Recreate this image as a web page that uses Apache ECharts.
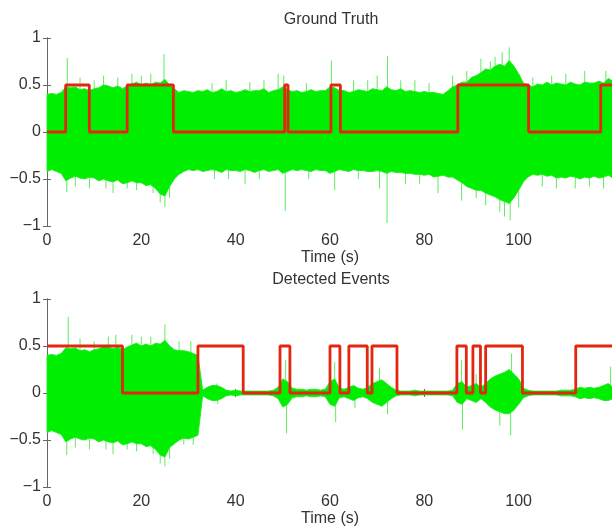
<!DOCTYPE html>
<html>
<head>
<meta charset="utf-8">
<script src="https://cdn.jsdelivr.net/npm/echarts@6/dist/echarts.min.js"></script>
<style>
html,body{margin:0;padding:0;background:#fff;}
#main{width:612px;height:526px;}
</style>
</head>
<body>
<div id="main"></div>
<script>
// envelope of the waveform, one sample per second (0 .. 120 s)
const sampleStep = 1;
const topHi = [0.40,0.41,0.40,0.42,0.48,0.47,0.48,0.45,0.46,0.44,
  0.46,0.47,0.50,0.49,0.47,0.49,0.46,0.49,0.51,0.53,
  0.50,0.52,0.50,0.53,0.52,0.56,0.50,0.46,0.42,0.44,
  0.43,0.42,0.44,0.43,0.45,0.42,0.43,0.46,0.43,0.44,
  0.42,0.43,0.45,0.43,0.44,0.44,0.46,0.42,0.44,0.45,
  0.48,0.45,0.43,0.44,0.42,0.43,0.45,0.43,0.44,0.44,
  0.48,0.47,0.44,0.44,0.42,0.43,0.45,0.44,0.43,0.46,
  0.45,0.44,0.48,0.45,0.44,0.46,0.43,0.44,0.43,0.42,
  0.43,0.42,0.42,0.41,0.40,0.44,0.48,0.50,0.53,0.53,
  0.58,0.60,0.63,0.67,0.66,0.70,0.72,0.70,0.76,0.70,
  0.62,0.52,0.50,0.48,0.51,0.50,0.53,0.50,0.52,0.51,
  0.50,0.53,0.51,0.50,0.53,0.52,0.52,0.54,0.52,0.57,0.54];
const topLo = [-0.42,-0.40,-0.42,-0.44,-0.52,-0.49,-0.47,-0.49,-0.50,-0.48,
  -0.49,-0.52,-0.50,-0.52,-0.53,-0.51,-0.55,-0.54,-0.52,-0.54,
  -0.54,-0.57,-0.56,-0.60,-0.66,-0.68,-0.58,-0.50,-0.45,-0.42,
  -0.40,-0.41,-0.40,-0.42,-0.41,-0.40,-0.41,-0.43,-0.40,-0.41,
  -0.41,-0.42,-0.40,-0.41,-0.43,-0.41,-0.40,-0.42,-0.41,-0.40,
  -0.44,-0.42,-0.40,-0.41,-0.40,-0.41,-0.42,-0.40,-0.41,-0.41,
  -0.44,-0.42,-0.40,-0.41,-0.42,-0.40,-0.41,-0.41,-0.42,-0.42,
  -0.41,-0.42,-0.44,-0.42,-0.43,-0.43,-0.44,-0.44,-0.45,-0.45,
  -0.46,-0.45,-0.48,-0.47,-0.46,-0.48,-0.48,-0.51,-0.54,-0.58,
  -0.60,-0.62,-0.62,-0.65,-0.67,-0.69,-0.72,-0.74,-0.76,-0.70,
  -0.62,-0.53,-0.48,-0.45,-0.46,-0.45,-0.47,-0.46,-0.49,-0.48,
  -0.49,-0.47,-0.48,-0.50,-0.48,-0.49,-0.47,-0.49,-0.48,-0.46,-0.49];
const botHi = [0.40,0.41,0.40,0.42,0.48,0.47,0.48,0.45,0.46,0.44,
  0.46,0.47,0.50,0.49,0.47,0.49,0.46,0.49,0.51,0.53,
  0.50,0.52,0.50,0.53,0.52,0.56,0.50,0.46,0.45,0.45,
  0.44,0.42,0.40,0.03,0.06,0.08,0.08,0.06,0.03,0.02,
  0.03,0.02,0.02,0.02,0.02,0.02,0.02,0.02,0.03,0.06,
  0.15,0.12,0.05,0.04,0.04,0.03,0.04,0.04,0.03,0.04,
  0.12,0.15,0.05,0.04,0.06,0.08,0.05,0.04,0.06,0.10,
  0.12,0.14,0.10,0.06,0.03,0.02,0.02,0.02,0.03,0.02,
  0.02,0.02,0.02,0.02,0.02,0.02,0.03,0.10,0.12,0.06,
  0.08,0.10,0.06,0.10,0.15,0.18,0.20,0.22,0.25,0.20,
  0.15,0.05,0.03,0.02,0.02,0.02,0.02,0.02,0.02,0.03,
  0.03,0.03,0.04,0.06,0.05,0.06,0.05,0.06,0.08,0.10,0.06];
const botLo = [-0.42,-0.40,-0.42,-0.44,-0.52,-0.49,-0.47,-0.49,-0.50,-0.48,
  -0.49,-0.52,-0.50,-0.52,-0.53,-0.51,-0.55,-0.54,-0.52,-0.54,
  -0.54,-0.57,-0.56,-0.60,-0.66,-0.68,-0.58,-0.54,-0.50,-0.48,
  -0.49,-0.47,-0.45,-0.03,-0.06,-0.08,-0.08,-0.06,-0.03,-0.02,
  -0.03,-0.02,-0.02,-0.02,-0.02,-0.02,-0.02,-0.02,-0.03,-0.06,
  -0.15,-0.12,-0.05,-0.04,-0.04,-0.03,-0.04,-0.04,-0.03,-0.04,
  -0.12,-0.14,-0.05,-0.04,-0.06,-0.08,-0.05,-0.04,-0.06,-0.10,
  -0.12,-0.14,-0.10,-0.06,-0.03,-0.02,-0.02,-0.02,-0.03,-0.02,
  -0.02,-0.02,-0.02,-0.02,-0.02,-0.02,-0.03,-0.10,-0.12,-0.06,
  -0.08,-0.10,-0.06,-0.10,-0.15,-0.18,-0.20,-0.22,-0.22,-0.18,
  -0.12,-0.05,-0.03,-0.02,-0.02,-0.02,-0.02,-0.02,-0.02,-0.03,
  -0.03,-0.03,-0.04,-0.06,-0.05,-0.06,-0.05,-0.06,-0.08,-0.08,-0.06];

// isolated peaks of the waveform (time in s, value)
const topSpikeT = [4.3, 7, 10, 12, 15, 18, 20, 22, 24.8, 35, 38, 43, 46, 49, 50.2, 55, 60.3, 65, 68, 70, 72.2, 75, 78, 81, 86, 89, 92, 94, 95, 96.5, 98, 103, 107, 110, 114, 118.5,
  4.2, 6, 9, 12.5, 14, 17, 19, 22.5, 24, 25, 26, 35.5, 38.5, 42, 45, 50.5, 55.5, 61, 66, 70.5, 72.1, 76, 79, 82.9, 87.9, 91, 93, 96, 97, 98.2, 100, 105, 108, 112, 115, 118];
const topSpikeV = [0.79, 0.58, 0.55, 0.6, 0.58, 0.62, 0.6, 0.62, 0.83, 0.52, 0.55, 0.53, 0.55, 0.62, 0.6, 0.52, 0.76, 0.55, 0.55, 0.6, 0.81, 0.55, 0.55, 0.52, 0.6, 0.65, 0.78, 0.75, 0.8, 0.85, 0.9, 0.58, 0.6, 0.62, 0.65, 0.65,
  -0.64, -0.58, -0.6, -0.6, -0.65, -0.6, -0.62, -0.65, -0.75, -0.8, -0.7, -0.5, -0.5, -0.55, -0.5, -0.84, -0.5, -0.62, -0.5, -0.6, -0.97, -0.55, -0.55, -0.65, -0.73, -0.7, -0.78, -0.85, -0.9, -0.94, -0.8, -0.58, -0.6, -0.6, -0.58, -0.6];
const botSpikeT = [4.5, 7, 10, 13, 14.6, 18, 20, 22, 25, 28, 30.5, 4.2, 6, 9, 12.5, 14, 17, 19, 22.5, 24, 25, 26, 29, 31,
  36, 36.2, 50.6, 50.8, 61, 61.2, 65.3, 70.5, 72.2, 87.9, 88.1, 91, 96, 98.5, 98.3, 119.5];
const botSpikeV = [0.81, 0.58, 0.55, 0.6, 0.62, 0.62, 0.6, 0.6, 0.73, 0.55, 0.55, -0.66, -0.58, -0.6, -0.6, -0.65, -0.6, -0.62, -0.65, -0.75, -0.78, -0.7, -0.55, -0.55,
  0.1, -0.12, 0.35, -0.43, 0.33, -0.31, -0.16, 0.27, -0.23, 0.35, -0.39, 0.2, -0.35, 0.42, -0.45, 0.28];

// event indicator (value held from each time to the next)
const topEventT = [0, 3.96, 8.97, 17.0, 26.8, 50.4, 51.1, 60.2, 62.2, 87.1, 102.1, 117.4, 121];
const topEventV = [0, 0.5, 0, 0.5, 0, 0.5, 0, 0.5, 0, 0.5, 0, 0.5, 0.5];
const botEventT = [0, 16.0, 32.0, 41.6, 49.4, 51.5, 60.0, 62.1, 64.0, 67.9, 68.9, 74.2, 86.9, 88.9, 90.3, 91.9, 93.0, 100.8, 112.1, 121];
const botEventV = [0.5, 0, 0.5, 0, 0.5, 0, 0.5, 0, 0.5, 0, 0.5, 0, 0.5, 0, 0.5, 0, 0.5, 0, 0.5, 0.5];

const xMax = 120;
const font = '"Liberation Sans", Arial, Helvetica, sans-serif';
const green = '#00ee00';
const red = '#e2260f';
const axisColor = '#666';

let myChart = echarts.init(document.getElementById('main'));

// whole envelope drawn as one polygon (upper edge forward, lower edge back)
function envelopeSeries(hi, lo, idx) {
  const data = hi.map((v, i) => [i * sampleStep, v, lo[i]]);
  return {
    type: 'custom', xAxisIndex: idx, yAxisIndex: idx, silent: true, z: 3,
    data: data,
    renderItem: function (params, api) {
      if (params.dataIndex !== 0) return null;
      const upper = data.map(d => api.coord([d[0], d[1]]));
      const lower = data.map(d => api.coord([d[0], d[2]])).reverse();
      return {
        type: 'polygon',
        shape: { points: upper.concat(lower) },
        style: { fill: green, stroke: '#22ec22', lineWidth: 1 }
      };
    }
  };
}

// thin peaks sit under the dense envelope so only their tips show
function spikeSeries(ts, vs, idx) {
  return {
    type: 'custom', xAxisIndex: idx, yAxisIndex: idx, silent: true, z: 2,
    data: ts.map((t, i) => [t, vs[i]]),
    renderItem: function (params, api) {
      const p0 = api.coord([api.value(0), 0]);
      const p1 = api.coord([api.value(0), api.value(1)]);
      return { type: 'line', shape: { x1: p0[0], y1: p0[1], x2: p1[0], y2: p1[1] }, style: { stroke: '#5ded5d', lineWidth: 1 } };
    }
  };
}

function eventSeries(ts, vs, idx) {
  return {
    type: 'line', xAxisIndex: idx, yAxisIndex: idx, step: 'end', symbol: 'none', z: 5,
    data: ts.map((t, i) => [t, vs[i]]),
    lineStyle: { color: red, width: 2.8 }
  };
}

const minus = v => String(v).replace('-', '\u2212');

function xAxes(gridIndex) {
  const base = { gridIndex: gridIndex, type: 'value', min: 0, max: xMax, interval: 20, splitLine: { show: false },
    axisLine: { lineStyle: { color: axisColor } },
    axisTick: { inside: true, length: 4, lineStyle: { color: axisColor } } };
  return [
    Object.assign({}, base, { position: 'bottom',
      axisLabel: { color: '#333', fontSize: 16, fontFamily: font, margin: 7, formatter: v => (v >= xMax ? '' : String(v)) },
      name: 'Time (s)', nameLocation: 'middle', nameGap: 24, nameTextStyle: { color: '#333', fontSize: 16, fontFamily: font } }),
    Object.assign({}, base, { position: 'top', axisLabel: { show: false } })
  ];
}

function yAxes(gridIndex) {
  const base = { gridIndex: gridIndex, type: 'value', min: -1, max: 1, interval: 0.5, splitLine: { show: false },
    axisLine: { show: true, lineStyle: { color: axisColor } },
    axisTick: { show: true, inside: true, length: 4, lineStyle: { color: axisColor } } };
  return [
    Object.assign({}, base, { position: 'left', axisLabel: { color: '#333', fontSize: 16, fontFamily: font, margin: 6, formatter: minus } }),
    Object.assign({}, base, { position: 'right', axisLabel: { show: false } })
  ];
}

const option = {
  animation: false,
  backgroundColor: '#fff',
  grid: [
    { left: 47, right: -1, top: 38, height: 188, containLabel: false, outerBoundsMode: 'none' },
    { left: 47, right: -1, top: 299, height: 188, containLabel: false, outerBoundsMode: 'none' }
  ],
  xAxis: xAxes(0).concat(xAxes(1)),
  yAxis: yAxes(0).concat(yAxes(1)),
  graphic: [
    { type: 'text', x: 331, y: 20, style: { text: 'Ground Truth', font: '16px ' + font, fill: '#333', align: 'center', verticalAlign: 'middle' } },
    { type: 'text', x: 331, y: 280, style: { text: 'Detected Events', font: '16px ' + font, fill: '#333', align: 'center', verticalAlign: 'middle' } }
  ],
  series: [
    envelopeSeries(topHi, topLo, 0),
    spikeSeries(topSpikeT, topSpikeV, 0),
    eventSeries(topEventT, topEventV, 0),
    envelopeSeries(botHi, botLo, 2),
    spikeSeries(botSpikeT, botSpikeV, 2),
    eventSeries(botEventT, botEventV, 2)
  ]
};
myChart.setOption(option);
window.addEventListener('resize', function () { myChart.resize(); });
</script>
</body>
</html>
